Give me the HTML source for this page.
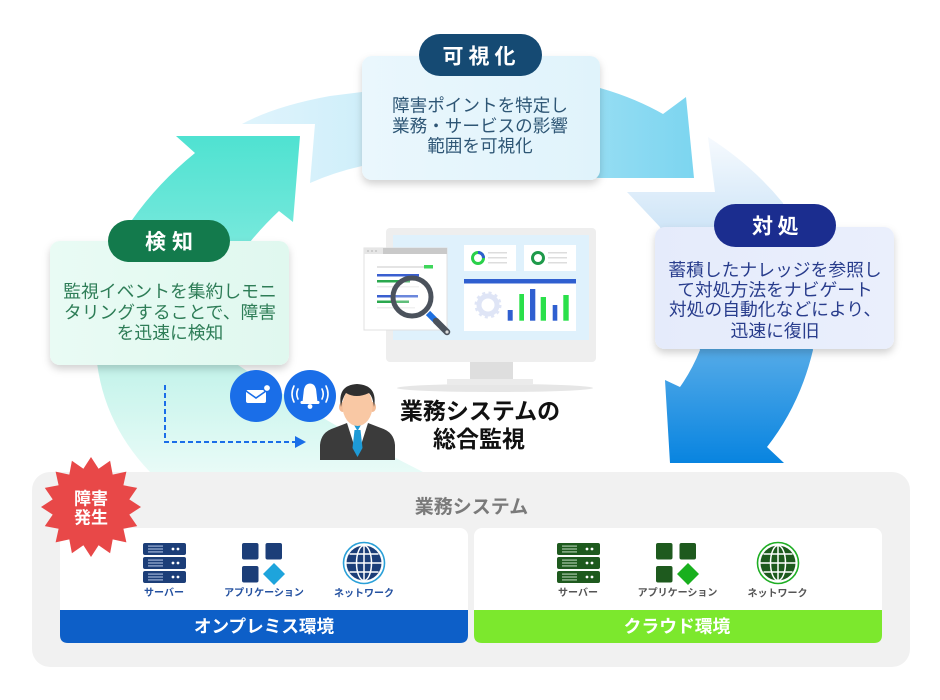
<!DOCTYPE html>
<html><head><meta charset="utf-8"><style>
html,body{margin:0;padding:0;background:#fff;}
svg{display:block;}
text{font-family:"Liberation Sans","Noto Sans CJK JP",sans-serif;}
</style></head><body>
<svg width="940" height="700" viewBox="0 0 940 700" xmlns="http://www.w3.org/2000/svg">
<defs>
<linearGradient id="gTeal" gradientUnits="userSpaceOnUse" x1="0" y1="136" x2="0" y2="472">
<stop offset="0" stop-color="#4fe2d1"/><stop offset="0.3" stop-color="#74e8db"/><stop offset="0.68" stop-color="#c3f3ea"/><stop offset="1" stop-color="#e8fbf7"/>
</linearGradient>
<linearGradient id="gSky" gradientUnits="userSpaceOnUse" x1="242" y1="0" x2="694" y2="0">
<stop offset="0" stop-color="#e0f4fc"/><stop offset="0.3" stop-color="#cdeefa"/><stop offset="1" stop-color="#7cd5f0"/>
</linearGradient>
<linearGradient id="gBlue" gradientUnits="userSpaceOnUse" x1="0" y1="137" x2="0" y2="463">
<stop offset="0" stop-color="#f6fafe"/><stop offset="0.28" stop-color="#cfe5f7"/><stop offset="0.65" stop-color="#55abe8"/><stop offset="1" stop-color="#0884e0"/>
</linearGradient>
<linearGradient id="bxSky" x1="0" y1="0" x2="1" y2="0"><stop offset="0" stop-color="#eaf7fd"/><stop offset="1" stop-color="#e0f3fb"/></linearGradient>
<linearGradient id="bxMint" x1="0" y1="0" x2="1" y2="0"><stop offset="0" stop-color="#e9fbf4"/><stop offset="1" stop-color="#e0f8ef"/></linearGradient>
<linearGradient id="bxInd" x1="0" y1="0" x2="1" y2="0"><stop offset="0" stop-color="#e5ebfb"/><stop offset="1" stop-color="#eaeffc"/></linearGradient>
<filter id="sh" x="-10%" y="-10%" width="120%" height="130%"><feDropShadow dx="0" dy="4" stdDeviation="4" flood-color="#000" flood-opacity="0.18"/></filter>
</defs>

<!-- cycle arrows -->
<path d="M176,136 L300,136 L293,222 L279,211 Q264,225 250,242 L238,365 Q320,420 423,472 L150,472 Q105,425 97,363 L110,290 Q118,250 132,220 Q158,183 195,153 Z" fill="url(#gTeal)"/>
<path d="M242,124 L315,124 L310,183 Q335,172 362,166 L600,178 L694,178 L686,97 L663,114 Q635,98 600,88 L362,92 L330,96 Q275,106 242,124 Z" fill="url(#gSky)"/>
<path d="M627,192 L715,192 L708,137 Q752,165 783,203 L813,350 Q800,405 767,447 L784,463 L670,463 L665,380 L680,387 Q692,370 700,350 L660,227 Z" fill="url(#gBlue)"/>

<!-- 可視化 box -->
<rect x="362" y="56" width="238" height="124" rx="10" fill="url(#bxSky)" filter="url(#sh)"/>
<rect x="419" y="34" width="123" height="42" rx="21" fill="#154a73"/>
<g fill="#fff" font-size="21" font-weight="700" text-anchor="middle">
<text x="453" y="63.5">可</text><text x="479" y="63.5">視</text><text x="505" y="63.5">化</text>
</g>
<g fill="#2e5675" font-size="17.6" text-anchor="middle">
<text x="480" y="111.5">障害ポイントを特定し</text>
<text x="480" y="132">業務・サービスの影響</text>
<text x="480" y="152">範囲を可視化</text>
</g>

<!-- 検知 box -->
<rect x="50" y="241" width="239" height="124" rx="10" fill="url(#bxMint)" filter="url(#sh)"/>
<rect x="108" y="220" width="122" height="42" rx="21" fill="#137a4c"/>
<g fill="#fff" font-size="21" font-weight="700" text-anchor="middle">
<text x="155.5" y="249">検</text><text x="182.5" y="249">知</text>
</g>
<g fill="#2e7d57" font-size="17.8" text-anchor="middle">
<text x="170" y="297.5">監視イベントを集約しモニ</text>
<text x="170" y="318.5">タリングすることで、障害</text>
<text x="170" y="339">を迅速に検知</text>
</g>

<!-- 対処 box -->
<rect x="655" y="227" width="239" height="122" rx="10" fill="url(#bxInd)" filter="url(#sh)"/>
<rect x="714" y="204" width="122" height="43" rx="21.5" fill="#1b2d8f"/>
<g fill="#fff" font-size="21" font-weight="700" text-anchor="middle">
<text x="762.5" y="233.5">対</text><text x="788" y="233.5">処</text>
</g>
<g fill="#283c8c" font-size="17.8" text-anchor="middle">
<text x="775" y="276">蓄積したナレッジを参照し</text>
<text x="775" y="296">て対処方法をナビゲート</text>
<text x="775" y="315.5">対処の自動化などにより、</text>
<text x="775" y="337">迅速に復旧</text>
</g>

<!-- monitor -->
<ellipse cx="495" cy="388" rx="98" ry="4" fill="#e6e6e6"/>
<rect x="470" y="361" width="43" height="19" fill="#dedede"/>
<rect x="447" y="379" width="86" height="6" fill="#ebebeb"/>
<rect x="386" y="228" width="210" height="134" rx="4" fill="#eeeeee"/>
<rect x="393" y="235" width="196" height="105" fill="#dff1fc"/>
<!-- cards -->
<rect x="464" y="245" width="52" height="26" fill="#fff"/>
<circle cx="478" cy="258" r="5.5" fill="none" stroke="#2ad14a" stroke-width="3"/>
<path d="M478,252.5 A5.5,5.5 0 0 1 483.5,258" fill="none" stroke="#2f5fd0" stroke-width="3"/>
<g fill="#dddddd"><rect x="488" y="252" width="19" height="1.5"/><rect x="488" y="257" width="19" height="1.5"/><rect x="488" y="262" width="19" height="1.5"/></g>
<rect x="524" y="245" width="52" height="26" fill="#fff"/>
<circle cx="538" cy="258" r="5.5" fill="none" stroke="#1e9a4a" stroke-width="3"/>
<g fill="#dddddd"><rect x="548" y="252" width="19" height="1.5"/><rect x="548" y="257" width="19" height="1.5"/><rect x="548" y="262" width="19" height="1.5"/></g>
<rect x="464" y="279" width="112" height="52" fill="#fff"/>
<rect x="464" y="279" width="112" height="4.5" fill="#2f5fd0"/>
<circle cx="488" cy="305" r="9" fill="none" stroke="#dfe5f6" stroke-width="5"/>
<circle cx="488" cy="305" r="12" fill="none" stroke="#dfe5f6" stroke-width="3" stroke-dasharray="3,3.3"/>
<g>
<rect x="507.7" y="310" width="5" height="10.7" fill="#2f5fd0"/>
<rect x="519.3" y="294" width="4.7" height="26.7" fill="#2ae04a"/>
<rect x="530" y="289" width="5.3" height="31.7" fill="#2f5fd0"/>
<rect x="540.7" y="297" width="5.3" height="23.7" fill="#2ae04a"/>
<rect x="552.7" y="305" width="4.6" height="15.7" fill="#2f5fd0"/>
<rect x="563.3" y="295" width="5.4" height="25.7" fill="#2ae04a"/>
</g>
<!-- doc window -->
<rect x="364" y="248" width="83" height="82" fill="#fff" stroke="#e0e0e0" stroke-width="1"/>
<rect x="364" y="248" width="83" height="6" fill="#c9c9c9"/>
<rect x="364" y="248" width="19" height="6" fill="#e6e6e6"/>
<g fill="#bbb"><circle cx="368" cy="251" r="0.9"/><circle cx="372" cy="251" r="0.9"/><circle cx="376" cy="251" r="0.9"/></g>
<rect x="377" y="266" width="47" height="2" fill="#e4e4e4"/>
<rect x="424" y="265" width="9" height="3.5" fill="#3ed65a"/>
<rect x="377" y="274" width="42" height="2.5" fill="#3a5fd0"/>
<rect x="377" y="280" width="33" height="2.5" fill="#2aa84e"/>
<rect x="377" y="286" width="42" height="1.5" fill="#ececec"/>
<rect x="377" y="295" width="41" height="2.5" fill="#3a5fd0"/>
<rect x="377" y="300.5" width="32" height="2.5" fill="#2aa84e"/>
<rect x="377" y="307" width="38" height="1.5" fill="#ececec"/>
<!-- magnifier -->
<circle cx="412" cy="297" r="19" fill="rgba(255,255,255,0.25)" stroke="#4b525c" stroke-width="5"/>
<line x1="428" y1="313" x2="436" y2="321" stroke="#1e6fe0" stroke-width="6"/>
<line x1="436" y1="321" x2="447" y2="332" stroke="#4b525c" stroke-width="6.5" stroke-linecap="round"/>
<circle cx="447" cy="332" r="1.6" fill="#dddddd"/>

<!-- icons + person -->
<circle cx="256" cy="396" r="26" fill="#1a6ee8"/>
<rect x="246" y="390" width="20" height="13" rx="2" fill="#fff"/>
<polyline points="246,391 256,398 266,391" fill="none" stroke="#1a6ee8" stroke-width="1.6"/>
<circle cx="267" cy="388" r="3.6" fill="#fff" stroke="#1a6ee8" stroke-width="1.4"/>
<circle cx="310" cy="396" r="26" fill="#1a6ee8"/>
<path d="M302.5,402 Q303.5,393 304,389 Q305.5,383.5 310,383.5 Q314.5,383.5 316,389 Q316.5,393 317.5,402 Z" fill="#fff"/>
<rect x="300.5" y="401" width="19" height="3" rx="1.2" fill="#fff"/>
<circle cx="310" cy="406.5" r="2.4" fill="#fff"/>
<g fill="none" stroke="#fff" stroke-width="1.6" stroke-linecap="round">
<path d="M298,389 Q295.5,394 298,399"/><path d="M294,386 Q290,394 294,402"/>
<path d="M322,389 Q324.5,394 322,399"/><path d="M326,386 Q330,394 326,402"/>
</g>

<path d="M165,385 V442 H297" fill="none" stroke="#1a6ee8" stroke-width="2" stroke-dasharray="5,3"/>
<polygon points="295,436 306,442 295,448" fill="#1a6ee8"/>

<path d="M320,460 L320,445 Q321,432 334,428 L347,423 L368,423 L381,428 Q394,432 395,445 L395,460 Z" fill="#3b3b3b"/>
<rect x="351" y="413" width="13" height="13" fill="#f0b792"/>
<path d="M347,423 L357.5,456 L368,423 L363,421 L352,421 Z" fill="#fff"/>
<path d="M354.5,430 L360.5,430 L362.5,448 L357.5,457 L352.5,448 Z" fill="#1e9ad6"/>
<path d="M354,425 L357.5,431 L361,425 Z" fill="#1e9ad6"/>
<ellipse cx="342.5" cy="407" rx="3.5" ry="5" fill="#f3bc97"/>
<ellipse cx="372.5" cy="407" rx="3.5" ry="5" fill="#f3bc97"/>
<ellipse cx="357.5" cy="406" rx="15" ry="20" fill="#f9c8a4"/>
<path d="M341,407 Q337,385 357,384 Q378,385 374,407 Q373,397 369,393 Q356,399 346,393 Q342,399 341,407 Z" fill="#2f2f2f"/>

<g fill="#111" font-size="23" font-weight="700" text-anchor="middle">
<text x="480" y="419">業務システムの</text>
<text x="479" y="447">総合監視</text>
</g>

<!-- system panel -->
<rect x="32" y="472" width="878" height="195" rx="18" fill="#f1f1f1"/>
<text x="471.5" y="513" fill="#7a7a7a" font-size="19" font-weight="700" text-anchor="middle">業務システム</text>

<rect x="60" y="528" width="408" height="115" rx="8" fill="#fff"/>
<path d="M60,610 H468 V635 Q468,643 460,643 H68 Q60,643 60,635 Z" fill="#0d5fc8"/>
<text x="264" y="632.5" fill="#fff" font-size="17.6" font-weight="700" text-anchor="middle">オンプレミス環境</text>

<rect x="474" y="528" width="408" height="115" rx="8" fill="#fff"/>
<path d="M474,610 H882 V635 Q882,643 874,643 H482 Q474,643 474,635 Z" fill="#7ce82d"/>
<text x="677" y="632.5" fill="#fff" font-size="17.8" font-weight="700" text-anchor="middle">クラウド環境</text>

<!-- left icons -->
<g>
<rect x="143" y="543" width="43" height="12" rx="2" fill="#1c3e78"/>
<rect x="143" y="557" width="43" height="12" rx="2" fill="#1c3e78"/>
<rect x="143" y="571" width="43" height="12" rx="2" fill="#1c3e78"/>
<g fill="#9fb2d6">
<rect x="148" y="545.5" width="15" height="1.2"/><rect x="148" y="548.4" width="15" height="1.2"/><rect x="148" y="551.3" width="15" height="1.2"/>
<rect x="148" y="559.5" width="15" height="1.2"/><rect x="148" y="562.4" width="15" height="1.2"/><rect x="148" y="565.3" width="15" height="1.2"/>
<rect x="148" y="573.5" width="15" height="1.2"/><rect x="148" y="576.4" width="15" height="1.2"/><rect x="148" y="579.3" width="15" height="1.2"/>
</g>
<g fill="#fff"><circle cx="173" cy="549" r="1.4"/><circle cx="178" cy="549" r="1.4"/><circle cx="173" cy="563" r="1.4"/><circle cx="178" cy="563" r="1.4"/><circle cx="173" cy="577" r="1.4"/><circle cx="178" cy="577" r="1.4"/></g>
</g>
<rect x="242" y="543" width="16.5" height="16.5" rx="2" fill="#1c3e78"/>
<rect x="265.5" y="543" width="16.5" height="16.5" rx="2" fill="#1c3e78"/>
<rect x="242" y="566" width="16.5" height="16.5" rx="2" fill="#1c3e78"/>
<polygon points="274,563 285,574 274,585 263,574" fill="#1ea4dc"/>
<circle cx="364" cy="563" r="20.5" fill="none" stroke="#2aa0d8" stroke-width="1.6"/>
<circle cx="364" cy="563" r="17.5" fill="#1c3e78"/>
<g fill="none" stroke="#fff" stroke-width="1.5">
<ellipse cx="364" cy="563" rx="7.5" ry="17.5"/>
<line x1="364" y1="545.5" x2="364" y2="580.5"/>
<line x1="346.5" y1="563" x2="381.5" y2="563"/>
<path d="M349.5,554 H378.5 M349.5,572 H378.5"/>
</g>
<g fill="#2451a0" font-size="10" font-weight="700" text-anchor="middle">
<text x="164" y="596">サーバー</text>
<text x="264" y="596">アプリケーション</text>
<text x="364" y="596.5">ネットワーク</text>
</g>

<!-- right icons -->
<g>
<rect x="557" y="543" width="43" height="12" rx="2" fill="#1e5a1e"/>
<rect x="557" y="557" width="43" height="12" rx="2" fill="#1e5a1e"/>
<rect x="557" y="571" width="43" height="12" rx="2" fill="#1e5a1e"/>
<g fill="#a9c8a9">
<rect x="562" y="545.5" width="15" height="1.2"/><rect x="562" y="548.4" width="15" height="1.2"/><rect x="562" y="551.3" width="15" height="1.2"/>
<rect x="562" y="559.5" width="15" height="1.2"/><rect x="562" y="562.4" width="15" height="1.2"/><rect x="562" y="565.3" width="15" height="1.2"/>
<rect x="562" y="573.5" width="15" height="1.2"/><rect x="562" y="576.4" width="15" height="1.2"/><rect x="562" y="579.3" width="15" height="1.2"/>
</g>
<g fill="#fff"><circle cx="587" cy="549" r="1.4"/><circle cx="592" cy="549" r="1.4"/><circle cx="587" cy="563" r="1.4"/><circle cx="592" cy="563" r="1.4"/><circle cx="587" cy="577" r="1.4"/><circle cx="592" cy="577" r="1.4"/></g>
</g>
<rect x="656" y="543" width="16.5" height="16.5" rx="2" fill="#1e5a1e"/>
<rect x="679.5" y="543" width="16.5" height="16.5" rx="2" fill="#1e5a1e"/>
<rect x="656" y="566" width="16.5" height="16.5" rx="2" fill="#1e5a1e"/>
<polygon points="688,563 699,574 688,585 677,574" fill="#19b01e"/>
<circle cx="778" cy="563" r="20.5" fill="none" stroke="#1fae24" stroke-width="1.6"/>
<circle cx="778" cy="563" r="17.5" fill="#1e5a1e"/>
<g fill="none" stroke="#fff" stroke-width="1.5">
<ellipse cx="778" cy="563" rx="7.5" ry="17.5"/>
<line x1="778" y1="545.5" x2="778" y2="580.5"/>
<line x1="760.5" y1="563" x2="795.5" y2="563"/>
<path d="M763.5,554 H792.5 M763.5,572 H792.5"/>
</g>
<g fill="#555" font-size="10" font-weight="700" text-anchor="middle">
<text x="578" y="596">サーバー</text>
<text x="677.5" y="596">アプリケーション</text>
<text x="777.5" y="596.5">ネットワーク</text>
</g>

<!-- burst -->
<polygon fill="#e84848" points="91,457 98.6,468.7 110.1,460.8 112.7,474.6 126.4,471.6 123.4,485.3 137.2,487.9 129.3,499.4 141,507 129.3,514.6 137.2,526.1 123.4,528.7 126.4,542.4 112.7,539.4 110.1,553.2 98.6,545.3 91,557 83.4,545.3 71.9,553.2 69.3,539.4 55.6,542.4 58.6,528.7 44.8,526.1 52.7,514.6 41,507 52.7,499.4 44.8,487.9 58.6,485.3 55.6,471.6 69.3,474.6 71.9,460.8 83.4,468.7"/>
<g fill="#fff" font-size="17" font-weight="700" text-anchor="middle">
<text x="91" y="504.5">障害</text>
<text x="91" y="523.5">発生</text>
</g>
</svg>
</body></html>
